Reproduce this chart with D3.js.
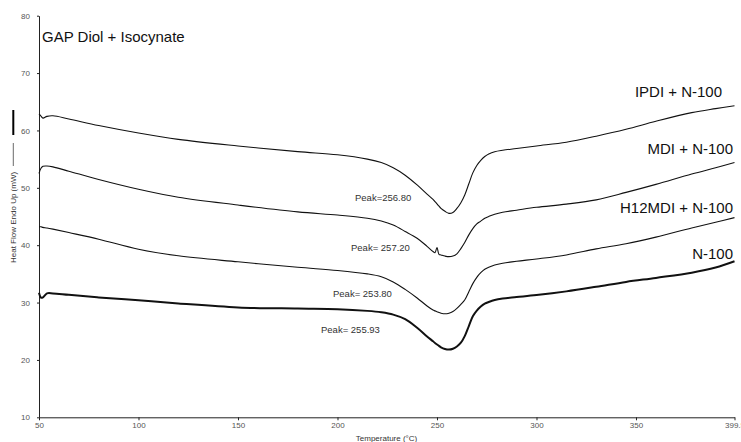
<!DOCTYPE html>
<html>
<head>
<meta charset="utf-8">
<script src="https://cdn.jsdelivr.net/npm/d3@7"></script>
<style>
  body { margin: 0; background: #fff; }
  svg { display: block; font-family: Arial, "Liberation Sans", sans-serif; }
</style>
</head>
<body>
<svg id="chart"></svg>
<script>
// temperature grid (deg C) shared by all four DSC runs
var temps = [50, 51, 52, 54, 57, 65, 80, 100, 120, 150, 180, 200, 215, 222, 228, 234, 240, 245, 248, 249, 250, 251, 252, 254, 256, 258, 260, 262, 264, 266, 268, 270, 272, 274, 276, 279, 283, 290, 300, 315, 330, 345, 360, 378, 390, 399.5];

// heat flow (mW)
var ipdi = [62.9, 62.5, 62.15, 62.45, 62.55, 62.0, 60.85, 59.55, 58.45, 57.3, 56.3, 55.75, 55.0, 54.4, 53.5, 52.2, 50.5, 48.9, 48.0, 47.6, 47.2, 46.8, 46.4, 45.9, 45.55, 45.7, 46.4, 47.4, 48.8, 50.7, 52.6, 53.9, 54.8, 55.45, 55.9, 56.3, 56.55, 56.85, 57.3, 57.95, 59.0, 60.2, 61.6, 63.1, 63.8, 64.3];
var mdi = [52.5, 53.4, 53.75, 53.8, 53.65, 52.9, 51.45, 49.75, 48.35, 47.0, 45.8, 45.25, 44.7, 44.2, 43.5, 42.4, 41.2, 39.8, 38.9, 38.7, 39.6, 38.4, 38.3, 38.1, 38.0, 38.1, 38.5, 39.4, 40.5, 41.8, 42.9, 43.7, 44.2, 44.7, 45.0, 45.4, 45.75, 46.1, 46.6, 47.15, 47.9, 49.2, 50.6, 52.4, 53.5, 54.4];
var h12mdi = [43.2, 43.2, 43.1, 43.0, 42.8, 42.2, 41.05, 39.3, 38.15, 37.1, 36.15, 35.6, 35.0, 34.5, 33.6, 32.3, 30.8, 29.4, 28.7, 28.55, 28.4, 28.25, 28.15, 28.05, 28.15, 28.45, 29.0, 29.7, 30.5, 31.9, 33.3, 34.4, 35.2, 35.8, 36.15, 36.55, 36.85, 37.2, 37.6, 38.3, 39.35, 40.25, 41.4, 43.0, 44.0, 44.8];
var n100 = [31.7, 30.85, 30.9, 31.6, 31.6, 31.35, 30.9, 30.4, 29.85, 29.15, 28.95, 28.85, 28.55, 28.3, 27.9, 27.1, 25.6, 24.1, 23.25, 22.95, 22.7, 22.45, 22.2, 21.9, 21.8, 21.95, 22.35, 23.0, 24.2, 25.9, 27.6, 28.6, 29.3, 29.8, 30.1, 30.45, 30.7, 30.95, 31.3, 31.95, 32.75, 33.6, 34.3, 35.2, 36.1, 37.2];

var seriesNames = ['IPDI + N-100', 'MDI + N-100', 'H12MDI + N-100', 'N-100'];
var seriesValues = [ipdi, mdi, h12mdi, n100];
var peakTexts = ['Peak=256.80', 'Peak= 257.20', 'Peak= 253.80', 'Peak= 255.93'];

var xTicks = [50, 100, 150, 200, 250, 300, 350, 399.5];
var yTicks = [10, 20, 30, 40, 50, 60, 70, 80];

var width = 741;
var height = 442;

var plotLeft = 39;      // y axis position
var plotRight = 734.5;  // end of x axis
var plotTop = 15.7;     // y = 80
var plotBottom = 417.3; // y = 10 (x axis)

// label placement (pixels)
var nameX = [722, 733, 733, 733];
var nameY = [97, 154, 213, 259];
var peakX = [355, 351, 333, 321];
var peakY = [201, 251, 297, 332.5];

var svg = d3.select('#chart')
            .attr('width', width)
            .attr('height', height);

svg.append('rect')
   .attr('width', width)
   .attr('height', height)
   .attr('fill', '#fff');

var x = d3.scaleLinear().domain([50, 399.5]).range([plotLeft, plotRight]);
var y = d3.scaleLinear().domain([10, 80]).range([plotBottom, plotTop]);

var xAxis = svg.append('g')
  .attr('transform', 'translate(0,' + plotBottom + ')')
  .call(d3.axisBottom(x).tickValues(xTicks).tickSize(3).tickSizeOuter(0).tickPadding(2)
          .tickFormat(function(d){ return d; }));

var yAxis = svg.append('g')
  .attr('transform', 'translate(' + plotLeft + ',0)')
  .call(d3.axisLeft(y).tickValues(yTicks).tickSize(2).tickSizeOuter(0).tickPadding(7));

[xAxis, yAxis].forEach(function(g){
  g.select('.domain').attr('stroke', '#222').attr('stroke-width', 1);
  g.selectAll('.tick line').attr('stroke', '#222');
  g.selectAll('.tick text')
   .attr('fill', '#555')
   .style('font-size', '8px')
   .style('font-family', 'Arial, "Liberation Sans", sans-serif');
});

// axis titles
svg.append('text')
   .attr('x', 386.5)
   .attr('y', 440.5)
   .attr('text-anchor', 'middle')
   .attr('fill', '#333')
   .style('font-size', '8px')
   .text('Temperature (°C)');

svg.append('text')
   .attr('transform', 'translate(16,263) rotate(-90)')
   .attr('fill', '#333')
   .style('font-size', '8px')
   .text('Heat Flow Endo Up (mW)');

svg.append('line')
   .attr('x1', 13.3).attr('x2', 13.3)
   .attr('y1', 143).attr('y2', 166)
   .attr('stroke', '#444').attr('stroke-width', 0.8);

svg.append('line')
   .attr('x1', 13.3).attr('x2', 13.3)
   .attr('y1', 110).attr('y2', 135)
   .attr('stroke', '#000').attr('stroke-width', 2);

// title
svg.append('text')
   .attr('x', 42)
   .attr('y', 42)
   .attr('fill', '#111')
   .style('font-size', '15px')
   .text('GAP Diol + Isocynate');

var line = d3.line()
  .x(function(d){ return x(d[0]); })
  .y(function(d){ return y(d[1]); })
  .curve(d3.curveCatmullRom.alpha(0.5));

svg.selectAll('path.trace')
   .data(seriesValues)
   .enter()
   .append('path')
   .attr('class', 'trace')
   .attr('fill', 'none')
   .attr('stroke', '#111')
   .attr('stroke-width', function(d, i){
     return i == 3 ? 2 : 1.1;
   })
   .attr('d', function(vals){
     return line(temps.map(function(t, j){ return [t, vals[j]]; }));
   });

svg.selectAll('text.name')
   .data(seriesNames)
   .enter()
   .append('text')
   .attr('class', 'name')
   .attr('x', function(d, i){ return nameX[i]; })
   .attr('y', function(d, i){ return nameY[i]; })
   .attr('text-anchor', 'end')
   .attr('fill', '#111')
   .style('font-size', '15px')
   .text(function(d){ return d; });

svg.selectAll('text.peak')
   .data(peakTexts)
   .enter()
   .append('text')
   .attr('class', 'peak')
   .attr('x', function(d, i){ return peakX[i]; })
   .attr('y', function(d, i){ return peakY[i]; })
   .attr('fill', '#333')
   .style('font-size', '9.5px')
   .style('white-space', 'pre')
   .text(function(d){ return d; });
</script>
</body>
</html>
